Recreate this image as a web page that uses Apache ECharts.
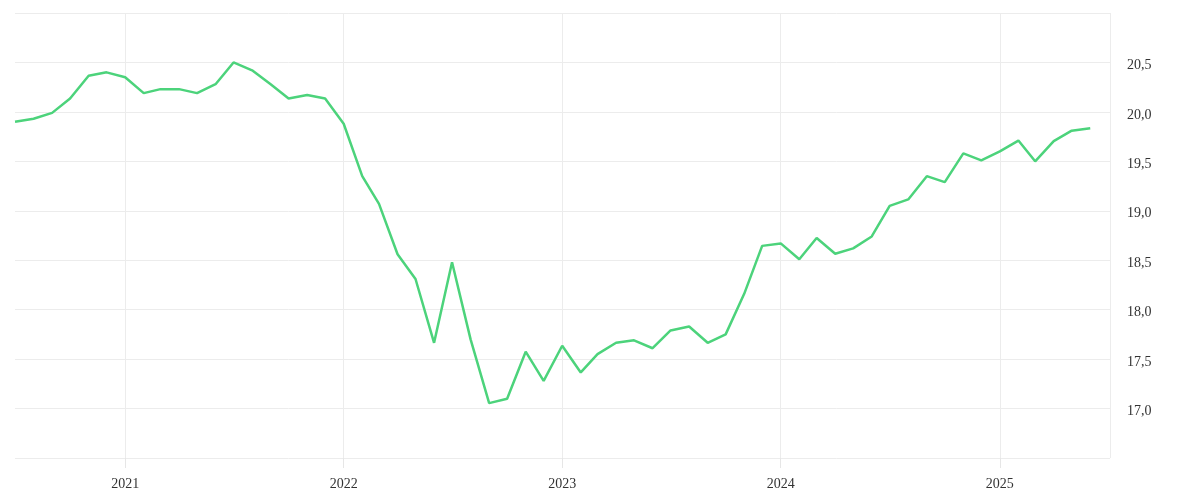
<!DOCTYPE html>
<html>
<head>
<meta charset="utf-8">
<script src="https://cdn.jsdelivr.net/npm/echarts@6/dist/echarts.min.js"></script>
<style>
html,body{margin:0;padding:0;background:#fff;}
#chart{width:1200px;height:500px;}
</style>
</head>
<body>
<div id="chart"></div>
<script>
const months = [
  '2020-07-01','2020-08-01','2020-09-01','2020-10-01','2020-11-01','2020-12-01',
  '2021-01-01','2021-02-01','2021-03-01','2021-04-01','2021-05-01','2021-06-01',
  '2021-07-01','2021-08-01','2021-09-01','2021-10-01','2021-11-01','2021-12-01',
  '2022-01-01','2022-02-01','2022-03-01','2022-04-01','2022-05-01','2022-06-01',
  '2022-07-01','2022-08-01','2022-09-01','2022-10-01','2022-11-01','2022-12-01',
  '2023-01-01','2023-02-01','2023-03-01','2023-04-01','2023-05-01','2023-06-01',
  '2023-07-01','2023-08-01','2023-09-01','2023-10-01','2023-11-01','2023-12-01',
  '2024-01-01','2024-02-01','2024-03-01','2024-04-01','2024-05-01','2024-06-01',
  '2024-07-01','2024-08-01','2024-09-01','2024-10-01','2024-11-01','2024-12-01',
  '2025-01-01','2025-02-01','2025-03-01','2025-04-01','2025-05-01','2025-06-01'
];
const values = [
  19.90, 19.93, 19.99, 20.135, 20.365, 20.40,
  20.35, 20.19, 20.23, 20.23, 20.19, 20.28,
  20.50, 20.42, 20.28, 20.135, 20.17, 20.135,
  19.88, 19.35, 19.07, 18.56, 18.31, 17.665,
  18.48, 17.70, 17.055, 17.10, 17.575, 17.28,
  17.635, 17.365, 17.55, 17.665, 17.69, 17.61,
  17.79, 17.83, 17.665, 17.75, 18.16, 18.645,
  18.67, 18.51, 18.725, 18.565, 18.62, 18.74,
  19.05, 19.115, 19.35, 19.29, 19.58, 19.51,
  19.60, 19.71, 19.50, 19.705, 19.81, 19.835
];
const xMin = '2020-07-01';
const xMax = '2025-07-04';
const yMin = 16.5, yMax = 21, yStep = 0.5;

const chart = echarts.init(document.getElementById('chart'));
const DAY = 86400000;
const gridColor = '#ececec';
const font = "'Liberation Serif', serif";
chart.setOption({
  animation: false,
  grid: { left: 15, right: 90, top: 13, bottom: 42, containLabel: false },
  xAxis: {
    type: 'time',
    min: xMin,
    max: xMax,
    minInterval: 365 * DAY,
    maxInterval: 366 * DAY,
    axisLine: { show: true, lineStyle: { color: gridColor, opacity: 0 } },
    axisTick: { show: true, interval: 0, inside: false, length: 10, lineStyle: { color: '#e6e6e6', width: 1, opacity: 1 } },
    splitLine: { show: true, showMinLine: false, lineStyle: { color: gridColor, width: 1 } },
    axisLabel: {
      color: '#333', fontFamily: font, fontSize: 14, margin: 19,
      showMinLabel: false, showMaxLabel: false,
      formatter: function (v) { return String(new Date(v).getFullYear()); }
    }
  },
  yAxis: {
    type: 'value',
    position: 'right',
    min: yMin, max: yMax, interval: yStep,
    axisLine: { show: false },
    axisTick: { show: false },
    splitLine: { show: true, lineStyle: { color: gridColor, width: 1 } },
    axisLabel: {
      color: '#333', fontFamily: font, fontSize: 14, margin: 17,
      verticalAlign: 'top', lineHeight: 6,
      showMinLabel: false, showMaxLabel: false,
      formatter: function (v) { return v.toFixed(1).replace('.', ','); }
    }
  },
  series: [{
    type: 'line',
    data: months.map((m, i) => [m, values[i]]),
    showSymbol: false,
    symbol: 'none',
    lineStyle: { color: '#4cd37b', width: 2.5 },
    itemStyle: { color: '#4cd37b' }
  }]
});
</script>
</body>
</html>
